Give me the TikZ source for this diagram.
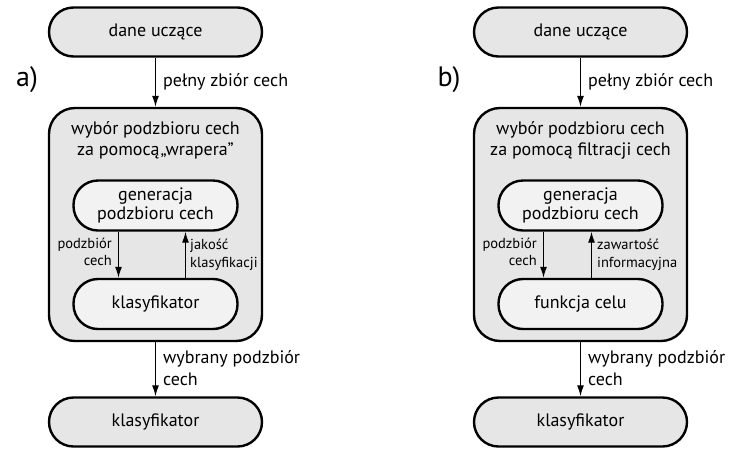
\documentclass[tikz,border=0pt]{standalone}
\usepackage{fontspec}
\setmainfont{PT Sans}
\usetikzlibrary{arrows.meta}
\definecolor{boxgray}{HTML}{E6E6E7}
\definecolor{innergray}{HTML}{F2F2F3}
\tikzset{
  x=1pt, y=-1pt,
  pill/.style={draw=black, line width=2.4pt, fill=boxgray, rounded corners=24.5pt,
    inner sep=0pt, align=center, font=\fontsize{18}{19}\selectfont},
  outerpill/.style={pill, minimum width=213pt, minimum height=49pt},
  innerpill/.style={pill, fill=innergray, minimum width=164pt, minimum height=50pt},
  bigbox/.style={draw=black, line width=2.4pt, fill=boxgray, rounded corners=26pt,
    minimum width=213pt, minimum height=233pt, inner sep=0pt},
  title/.style={align=center, font=\fontsize{18}{21}\selectfont, inner sep=0pt},
  arr/.style={line width=1.3pt, -{Latex[length=11pt,width=7pt]}},
  lab/.style={font=\fontsize{18}{22}\selectfont, align=left, inner sep=0pt},
  slab/.style={font=\fontsize{14.5}{17.5}\selectfont, inner sep=0pt},
  panel/.style={font=\fontsize{28}{28}\selectfont, inner sep=0pt}
}
\begin{document}
\begin{tikzpicture}
\useasboundingbox (0,0) rectangle (730,448);
% ---------- a ----------
\node[panel] (pa) at (27,80) {a)};
\node[outerpill] (a1) at (155.5,32) {dane uczące};
\node[bigbox] (a2) at (155.5,224.5) {};
\node[title] (a2t) at (155.5,140.5) {wybór podzbioru cech\\za pomocą\kern1pt„wrapera”};
\node[innerpill] (a3) at (155.5,205.5) {generacja\\podzbioru cech};
\node[innerpill] (a4) at (155.5,304) {klasyfikator};
\node[outerpill] (a5) at (155.5,422) {klasyfikator};
\draw[arr] (a1.south) -- node[lab, midway, right=7pt] {pełny zbiór cech} (a2.north);
\draw[arr] ([xshift=-37pt]a3.south) -- node[slab, align=right, midway, left=6pt, yshift=3pt] {podzbiór\\cech} ([xshift=-37pt]a4.north);
\draw[arr] ([xshift=30pt]a4.north) -- node[slab, align=left, midway, right=4pt] {jakość\\klasyfikacji} ([xshift=30pt]a3.south);
\draw[arr] (a2.south) -- node[lab, midway, right=7pt, yshift=1pt] {wybrany podzbiór\\cech} (a5.north);
% ---------- b ----------
\node[panel] (pb) at (449,80) {b)};
\node[outerpill] (b1) at (580.5,32) {dane uczące};
\node[bigbox] (b2) at (580.5,224.5) {};
\node[title] (b2t) at (580.5,140.5) {wybór podzbioru cech\\za pomocą filtracji cech};
\node[innerpill] (b3) at (580.5,205.5) {generacja\\podzbioru cech};
\node[innerpill] (b4) at (580.5,304) {funkcja celu};
\node[outerpill] (b5) at (580.5,422) {klasyfikator};
\draw[arr] (b1.south) -- node[lab, midway, right=7pt] {pełny zbiór cech} (b2.north);
\draw[arr] ([xshift=-37pt]b3.south) -- node[slab, align=right, midway, left=6pt, yshift=3pt] {podzbiór\\cech} ([xshift=-37pt]b4.north);
\draw[arr] ([xshift=11pt]b4.north) -- node[slab, align=left, midway, right=5pt] {zawartość\\informacyjna} ([xshift=11pt]b3.south);
\draw[arr] (b2.south) -- node[lab, midway, right=7pt, yshift=1pt] {wybrany podzbiór\\cech} (b5.north);
\end{tikzpicture}
\end{document}
